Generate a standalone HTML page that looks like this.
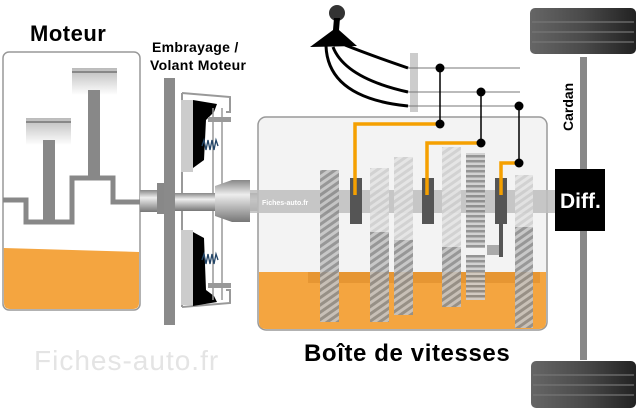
<!DOCTYPE html>
<html><head><meta charset="utf-8"><style>
html,body{margin:0;padding:0;background:#fff;width:640px;height:412px;overflow:hidden}
svg{display:block}
text{font-family:"Liberation Sans",sans-serif}
</style></head><body>
<svg width="640" height="412" viewBox="0 0 640 412" xmlns="http://www.w3.org/2000/svg">
<defs>
<pattern id="hd" width="6" height="6" patternUnits="userSpaceOnUse" patternTransform="rotate(-35)">
<rect width="6" height="6" fill="#c4c4c4"/><rect width="6" height="3" fill="#8e8e8e"/></pattern>
<pattern id="hl" width="6" height="6" patternUnits="userSpaceOnUse" patternTransform="rotate(-35)">
<rect width="6" height="6" fill="#e4e4e4"/><rect width="6" height="3" fill="#cfcfcf"/></pattern>
<pattern id="hz" width="6" height="5" patternUnits="userSpaceOnUse">
<rect width="6" height="5" fill="#cfcfcf"/><rect width="6" height="2.5" fill="#8a8a8a"/></pattern>
<linearGradient id="sh" x1="0" y1="0" x2="0" y2="1">
<stop offset="0" stop-color="#888"/><stop offset=".35" stop-color="#eee"/><stop offset="1" stop-color="#777"/></linearGradient>
<linearGradient id="ph" x1="0" y1="0" x2="0" y2="1">
<stop offset="0" stop-color="#bbb"/><stop offset="1" stop-color="#fff"/></linearGradient>
<linearGradient id="tire" x1="0" y1="0" x2="1" y2="0">
<stop offset="0" stop-color="#666"/><stop offset=".5" stop-color="#4a4a4a"/><stop offset="1" stop-color="#222"/></linearGradient>
</defs>

<!-- Engine -->
<text x="30" y="41" font-size="22" font-weight="bold" letter-spacing="0.5">Moteur</text>
<rect x="3" y="52" width="137" height="258" rx="6" fill="#fff" stroke="#999" stroke-width="1.5"/>
<path d="M3.8 248 L139 252 L139 303 Q139 309 133 309 L10 309 Q4 309 4 303 Z" fill="#f4a540"/>
<rect x="26" y="118" width="45" height="27" fill="url(#ph)"/>
<rect x="26" y="121" width="45" height="2" fill="#888"/>
<rect x="43" y="140" width="12" height="82" fill="#888"/>
<rect x="72" y="68" width="45" height="27" fill="url(#ph)"/>
<rect x="72" y="71" width="45" height="2" fill="#888"/>
<rect x="88" y="90" width="12" height="86" fill="#888"/>
<path d="M3 200 L26 200 L26 222 L72 222 L72 178 L113 178 L113 202 L140 202" fill="none" stroke="#888" stroke-width="5"/>

<!-- Clutch -->
<text x="152" y="52" font-size="14" font-weight="bold" letter-spacing="0.3">Embrayage /</text>
<text x="150" y="70" font-size="14" font-weight="bold" letter-spacing="0.3">Volant Moteur</text>
<rect x="140" y="190" width="20" height="22" fill="url(#sh)"/>
<rect x="157" y="183" width="8" height="31" fill="#888"/>
<rect x="164" y="78" width="11" height="247" fill="#8a8a8a"/>
<path d="M182 93 L182 307 M182 93 L230 97 L230 112 L226 112 M182 307 L230 303 L230 290 L226 290" fill="none" stroke="#999" stroke-width="2"/>
<rect x="181" y="100" width="12" height="72" fill="#ccc"/>
<rect x="181" y="230" width="12" height="75" fill="#ccc"/>
<path d="M193 100 L217 104 L214 112 L206 120 L204 160 L193 168 Z" fill="#000"/>
<path d="M193 232 L204 238 L206 290 L214 296 L217 302 L193 306 Z" fill="#000"/>
<line x1="213" y1="108" x2="213" y2="300" stroke="#999" stroke-width="1.5"/>
<line x1="222" y1="108" x2="222" y2="300" stroke="#999" stroke-width="1.5"/>
<rect x="208" y="117" width="23" height="5" fill="#999"/>
<rect x="208" y="283" width="23" height="5" fill="#999"/>
<path d="M202 146 l2 -6 l2 10 l2 -10 l2 10 l2 -10 l2 10 l2 -10 l2 6" fill="none" stroke="#246" stroke-width="1.3"/>
<path d="M202 260 l2 -6 l2 10 l2 -10 l2 10 l2 -10 l2 10 l2 -10 l2 6" fill="none" stroke="#246" stroke-width="1.3"/>
<rect x="175" y="193" width="85" height="18" fill="url(#sh)"/>
<path d="M215 186 L232 180 L250 180 L250 222 L232 222 L215 216 Z" fill="url(#sh)"/>

<!-- Gearbox -->
<rect x="258" y="117" width="289" height="213" rx="8" fill="#f3f3f3" stroke="#999" stroke-width="1.5"/>
<path d="M259 272 L546 272 L546 322 Q546 329 539 329 L266 329 Q259 329 259 322 Z" fill="#f4a540"/>
<rect x="308" y="272" width="232" height="11" fill="#e0902e" opacity=".7"/>
<rect x="250" y="190" width="305" height="23" fill="#bdbdbd" opacity=".85"/>
<text x="262" y="205" font-size="7" font-weight="bold" fill="#fff">Fiches-auto.fr</text>
<g opacity=".9">
<rect x="320" y="170" width="19" height="152" fill="url(#hd)"/>
<rect x="370" y="168" width="19" height="64" fill="url(#hl)"/>
<rect x="370" y="232" width="19" height="90" fill="url(#hd)"/>
<rect x="394" y="157" width="19" height="83" fill="url(#hl)"/>
<rect x="394" y="240" width="19" height="75" fill="url(#hd)"/>
<rect x="442" y="147" width="19" height="100" fill="url(#hl)"/>
<rect x="442" y="247" width="19" height="60" fill="url(#hd)"/>
<rect x="466" y="153" width="19" height="95" fill="url(#hz)"/>
<rect x="466" y="255" width="19" height="45" fill="url(#hz)"/>
<rect x="515" y="175" width="18" height="52" fill="url(#hl)"/>
<rect x="515" y="227" width="18" height="101" fill="url(#hd)"/>
</g>
<rect x="487" y="245" width="15" height="10" fill="#aaa"/>
<rect x="499" y="220" width="4" height="37" fill="#555"/>
<rect x="350" y="178" width="12" height="46" fill="#555"/>
<rect x="422" y="178" width="12" height="46" fill="#555"/>
<rect x="495" y="178" width="12" height="46" fill="#555"/>
<path d="M355 195 L355 124 L440 124 M427 195 L427 143 L482 143 M501 195 L501 163 L519 163" fill="none" stroke="#f5a000" stroke-width="3.5"/>

<!-- shift linkage -->
<rect x="410" y="53" width="8" height="59" fill="#ccc"/>
<path d="M408 68 L520 68 M408 92 L520 92 M408 106 L520 106" stroke="#777" stroke-width="1"/>
<path d="M440 68 L440 124 M481 92 L481 143 M519 106 L519 163" stroke="#000" stroke-width="1.5"/>
<g fill="#000">
<circle cx="440" cy="68" r="4.5"/><circle cx="481" cy="92" r="4.5"/><circle cx="519" cy="106" r="4.5"/>
<circle cx="440" cy="124" r="4.5"/><circle cx="481" cy="143" r="4.5"/><circle cx="519" cy="163" r="4.5"/>
</g>
<circle cx="337" cy="13" r="8" fill="#333"/>
<path d="M334 18 L340 18 L339 30 L357 46 L310 47 L333 30 Z" fill="#000"/>
<path d="M345 45 Q370 55 408 68 M333 47 Q345 78 408 92 M326 46 Q328 98 408 106" fill="none" stroke="#000" stroke-width="3"/>

<!-- axle -->
<rect x="580" y="57" width="7" height="303" fill="#888"/>
<rect x="530" y="8" width="106" height="46" rx="5" fill="url(#tire)"/>
<rect x="531" y="361" width="105" height="47" rx="5" fill="url(#tire)"/>
<g stroke="#777" stroke-width="2" opacity=".6">
<line x1="532" y1="22" x2="634" y2="22"/><line x1="532" y1="32" x2="634" y2="32"/><line x1="532" y1="42" x2="634" y2="42"/>
<line x1="533" y1="375" x2="634" y2="375"/><line x1="533" y1="385" x2="634" y2="385"/><line x1="533" y1="395" x2="634" y2="395"/>
</g>
<rect x="555" y="169" width="50" height="62" fill="#000"/>
<text x="560" y="208" font-size="21" font-weight="bold" fill="#fff">Diff.</text>
<text transform="translate(573,131) rotate(-90)" font-size="14" font-weight="bold">Cardan</text>

<text x="304" y="361" font-size="24" font-weight="bold" letter-spacing="0.6">Boîte de vitesses</text>
<text x="34" y="370" font-size="28" fill="#e4e4e4" letter-spacing="1">Fiches-auto.fr</text>
</svg>
</body></html>
